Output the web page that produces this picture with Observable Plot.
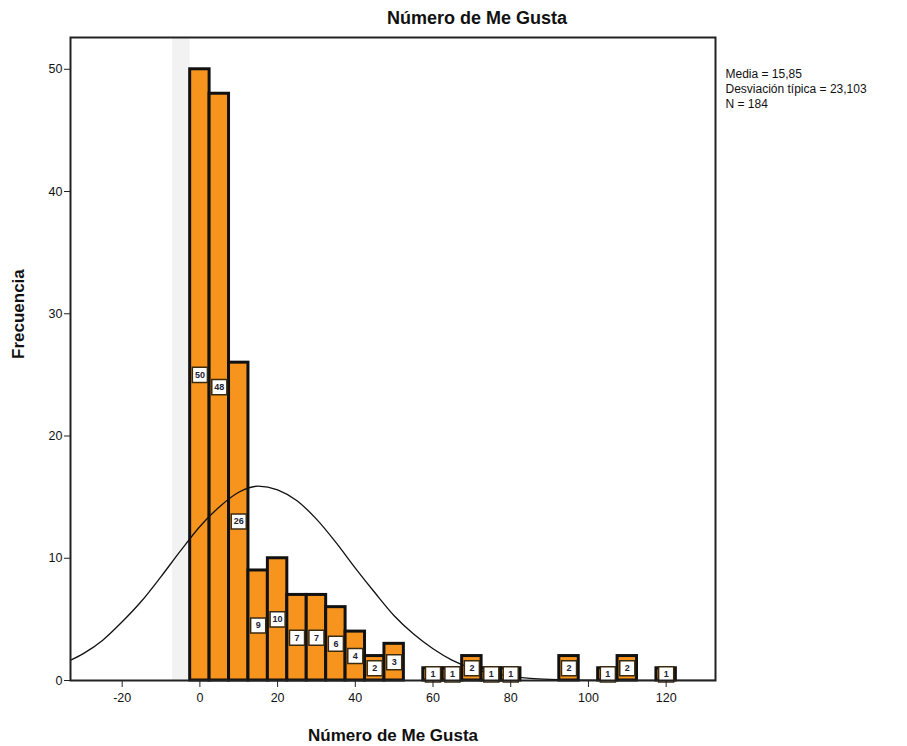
<!DOCTYPE html>
<html>
<head>
<meta charset="utf-8">
<script src="https://cdn.jsdelivr.net/npm/d3@7"></script>
<script src="https://cdn.jsdelivr.net/npm/@observablehq/plot@0.6"></script>
<style>
  body { margin: 0; background: #fff; font-family: "Liberation Sans", Arial, sans-serif; }
  #title { box-sizing: border-box; width: 907px; height: 33px; padding-top: 3px; padding-left: 47px;
           text-align: center; font-weight: bold; font-size: 18px; line-height: 30px; color: #111; }
</style>
</head>
<body>
<div id="title">Número de Me Gusta</div>
<div id="chart"></div>
<script>
// Bin centers (width 5) and frequencies
const binCenters = [0, 5, 10, 15, 20, 25, 30, 35, 40, 45, 50, 60, 65, 70, 75, 80, 95, 105, 110, 120];
const binCounts  = [50, 48, 26, 9, 10, 7, 7, 6, 4, 2, 3, 1, 1, 2, 1, 1, 2, 1, 2, 1];
const binWidth = 5;

// Normal curve
const curveX = [-35, -30, -25, -20, -15, -10, -5, 0, 5, 10, 15, 20, 25, 30, 35, 40, 45, 50, 55, 60, 65, 70, 75, 80, 85, 90, 95, 100, 110, 135];
const curveY = [1.4, 2.2, 3.3, 4.8, 6.5, 8.5, 10.6, 12.6, 14.2, 15.4, 15.9, 15.6, 14.7, 13.2, 11.3, 9.2, 7.2, 5.3, 3.8, 2.6, 1.65, 1.0, 0.6, 0.34, 0.18, 0.09, 0.04, 0.02, 0, 0];

const xTicks = [-20, 0, 20, 40, 60, 80, 100, 120];
const yTicks = [0, 10, 20, 30, 40, 50];
const statsLines = ["Media = 15,85", "Desviación típica = 23,103", "N = 184"];

const bars = binCenters.map((c, i) => ({x1: c - binWidth / 2, x2: c + binWidth / 2, x: c, count: binCounts[i]}));
const curve = curveX.map((x, i) => ({x, y: curveY[i]}));

const plot = Plot.plot({
  width: 907,
  height: 713,
  marginLeft: 70,
  marginRight: 192,
  marginTop: 4,
  marginBottom: 66,
  style: {fontFamily: "'Liberation Sans', Arial, sans-serif", background: "#fff", color: "#111"},
  x: {domain: [-33.3, 132.7]},
  y: {domain: [0, 52.6]},
  marks: [
    Plot.rect([{}], {x1: -7, x2: -2.5, y1: 0, y2: 52.6, fill: "#f2f2f2"}),
    Plot.rectY(bars, {x1: "x1", x2: "x2", y: "count", fill: "#f7941d", stroke: "#111", strokeWidth: 3}),
    Plot.line(curve, {x: "x", y: "y", curve: "monotone-x", stroke: "#111", strokeWidth: 1.3, clip: true}),
    Plot.dot(bars, {x: "x", y: d => d.count / 2, symbol: "square", r: 8.5, fill: "#fff", stroke: "#3a2a10", strokeWidth: 1.5}),
    Plot.text(bars, {x: "x", y: d => d.count / 2, text: d => String(d.count), fontSize: 9, fill: "#223", fontWeight: "bold"}),
    Plot.frame({stroke: "#222", strokeWidth: 2}),
    Plot.axisX({ticks: xTicks, tickFormat: d => String(d), tickSize: 7, tickPadding: 6, fontSize: 12.5, label: null, stroke: "#222"}),
    Plot.axisY({ticks: yTicks, tickFormat: d => String(d), tickSize: 6, tickPadding: 2, fontSize: 12.5, label: null, stroke: "#222"}),
    Plot.text(["Número de Me Gusta"], {frameAnchor: "bottom", dy: 55, text: d => d, fontSize: 17, fontWeight: "bold", lineAnchor: "middle"}),
    Plot.text(["Frecuencia"], {frameAnchor: "left", dx: -52, rotate: -90, text: d => d, fontSize: 17, fontWeight: "bold"}),
    Plot.text([statsLines.join("\n")], {frameAnchor: "top-right", dx: 10, dy: 30, text: d => d, textAnchor: "start", lineAnchor: "top", fontSize: 12, lineHeight: 1.25})
  ]
});
document.getElementById("chart").appendChild(plot);
</script>
</body>
</html>
